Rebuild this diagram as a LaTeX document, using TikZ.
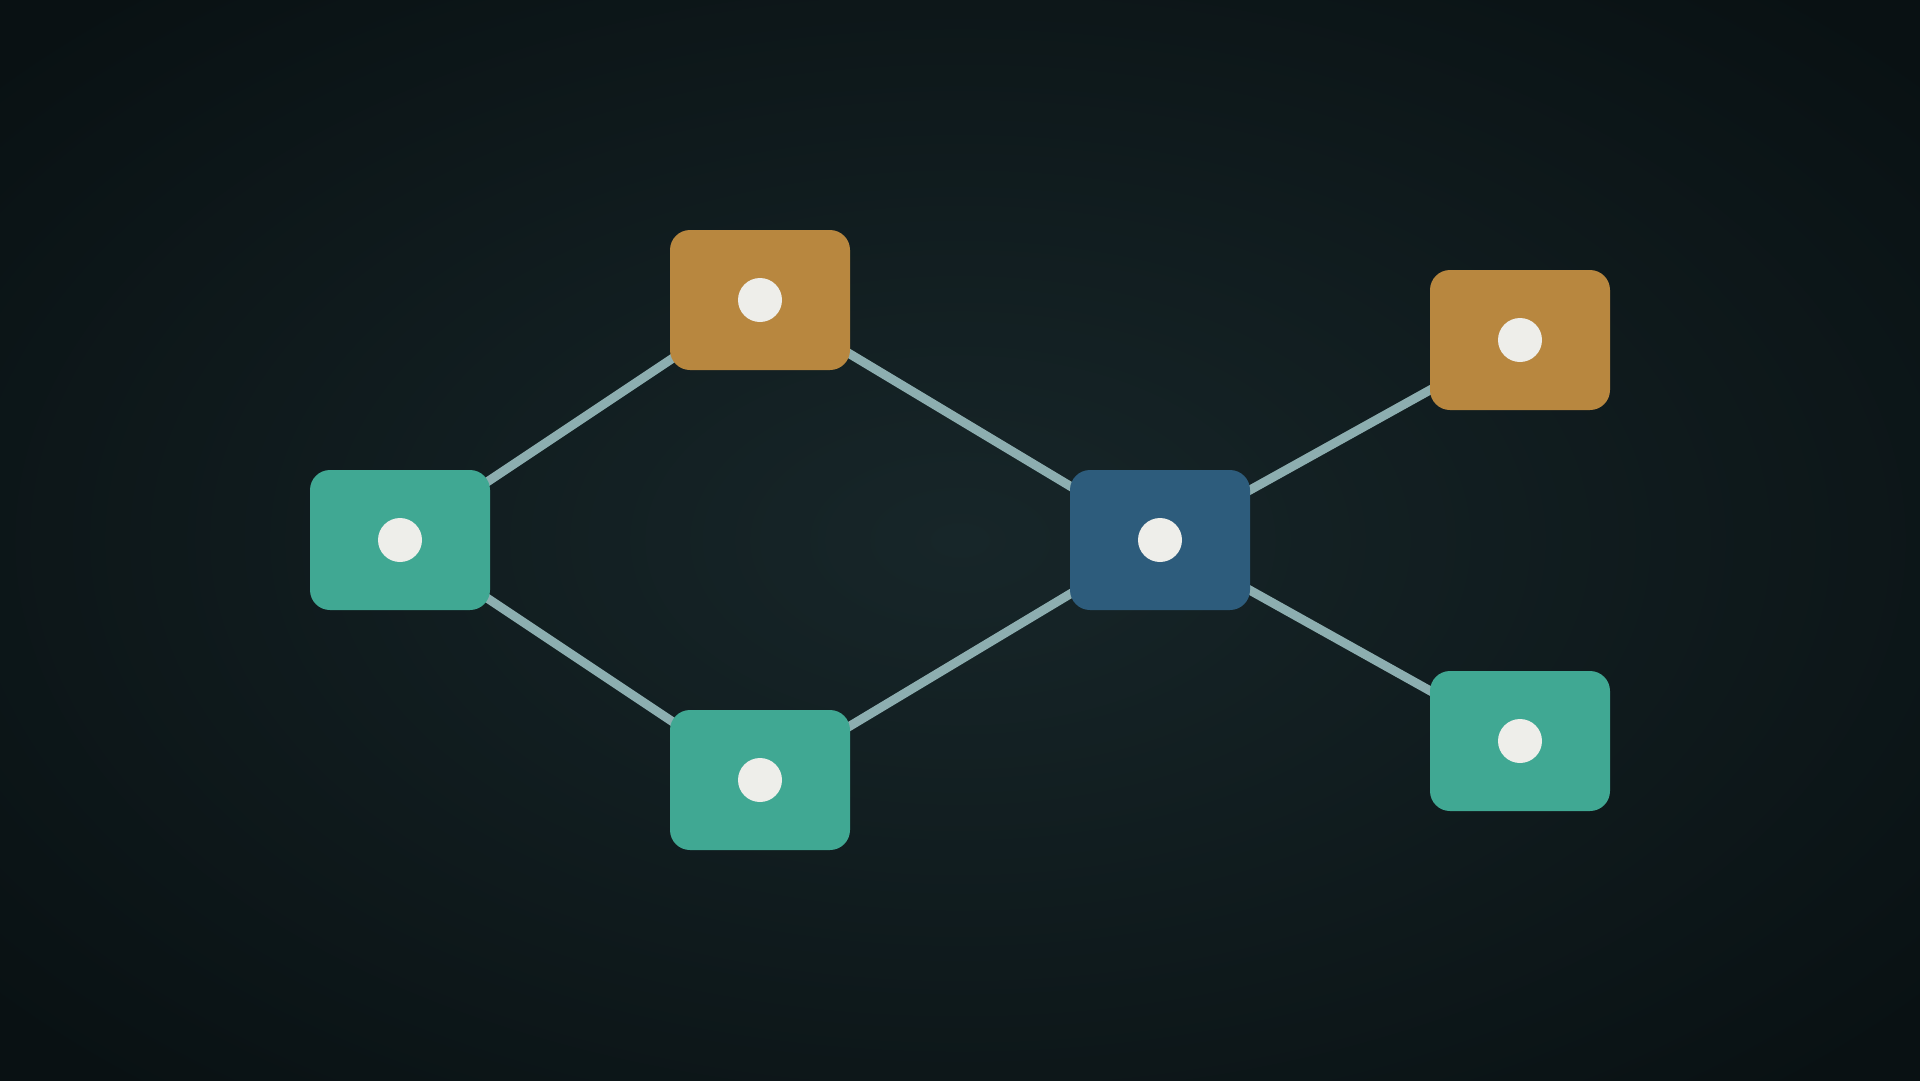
\documentclass[tikz,border=0pt]{standalone}
\definecolor{bgin}{HTML}{172629}
\definecolor{bgout}{HTML}{091113}
\definecolor{tealc}{HTML}{40A893}
\definecolor{orangec}{HTML}{B8873F}
\definecolor{bluec}{HTML}{2D5C7C}
\definecolor{edgec}{HTML}{8DAEB0}
\definecolor{dotc}{HTML}{EEEEEA}
\tikzset{
  card/.style={rectangle, rounded corners=20pt, minimum width=180pt, minimum height=140pt, inner sep=0pt, draw=none},
  tealcard/.style={card, fill=tealc},
  orangecard/.style={card, fill=orangec},
  bluecard/.style={card, fill=bluec},
  dot/.style={circle, fill=dotc, minimum size=44pt, inner sep=0pt},
  link/.style={draw=edgec, line width=9pt}
}
\begin{document}
\begin{tikzpicture}[x=1pt,y=-1pt]
\useasboundingbox (0,0) rectangle (1920,1080);
\shade[inner color=bgin, outer color=bgout] (-300,-200) rectangle (2220,1280);
\coordinate (pL) at (400,540);
\coordinate (pTO) at (760,300);
\coordinate (pBT) at (760,780);
\coordinate (pC) at (1160,540);
\coordinate (pRO) at (1520,340);
\coordinate (pRT) at (1520,741);
\draw[link] (pL) -- (pTO);
\draw[link] (pL) -- (pBT);
\draw[link] (pTO) -- (pC);
\draw[link] (pBT) -- (pC);
\draw[link] (pC) -- (pRO);
\draw[link] (pC) -- (pRT);
\node[tealcard] (L) at (pL) {};
\node[orangecard] (TO) at (pTO) {};
\node[tealcard] (BT) at (pBT) {};
\node[bluecard] (C) at (pC) {};
\node[orangecard] (RO) at (pRO) {};
\node[tealcard] (RT) at (pRT) {};
\foreach \n in {L,TO,BT,C,RO,RT} \node[dot] (d\n) at (\n) {};
\end{tikzpicture}
\end{document}
